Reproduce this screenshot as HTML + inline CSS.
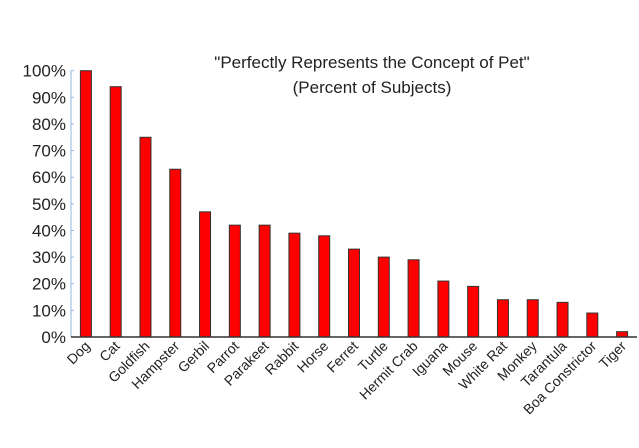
<!DOCTYPE html>
<html><head><meta charset="utf-8"><style>
body{margin:0;background:#fff}
svg text{font-family:"Liberation Sans",sans-serif;fill:#222}
</style></head><body>
<svg id="chart" width="639" height="443" xmlns="http://www.w3.org/2000/svg">
<text x="372" y="68" text-anchor="middle" font-size="17">"Perfectly Represents the Concept of Pet"</text>
<text x="372" y="93" text-anchor="middle" font-size="17">(Percent of Subjects)</text>
<g id="g"></g>
</svg>
<script>
const categories=["Dog","Cat","Goldfish","Hampster","Gerbil","Parrot","Parakeet","Rabbit","Horse","Ferret","Turtle","Hermit Crab","Iguana","Mouse","White Rat","Monkey","Tarantula","Boa Constrictor","Tiger"];
const values=[100,94,75,63,47,42,42,39,38,33,30,29,21,19,14,14,13,9,2];
const ticks=[0,10,20,30,40,50,60,70,80,90,100];
const NS="http://www.w3.org/2000/svg";
const g=document.getElementById('g');
const x0=71,x1=637,y0=337,y100=70.7;
const step=(x1-x0)/categories.length;
const y=v=>y0-(y0-y100)*v/100;
const xc=i=>x0+step*(i+0.5);
function mk(t,a){const e=document.createElementNS(NS,t);for(const k in a)e.setAttribute(k,a[k]);g.appendChild(e);return e;}
const ax=mk('line',{x1:x0,y1:y100,x2:x0,y2:y0,stroke:'#8fb8e0','stroke-width':1});


ticks.forEach(t=>{
 const l=mk('line',{x1:x0,x2:x0+3,y1:y(t),y2:y(t),stroke:'#8fb8e0'});
 
 
 const tx=mk('text',{x:66,y:y(t)+6,'text-anchor':'end','font-size':17});
 tx.textContent=t+'%';
 
 
});
values.forEach((v,i)=>{
 const r=mk('rect',{x:xc(i)-5.5,y:y(v),width:11,height:y0-y(v),fill:'#ff0000',stroke:'#333','stroke-width':1});
 
 
 const tx=mk('text',{x:0,y:0,'text-anchor':'end','font-size':14,transform:`translate(${xc(i)+5},${y0+10}) rotate(-45)`});
 tx.textContent=categories[i];
 
 
});
const bl=mk('line',{x1:x0,x2:x1,y1:y0,y2:y0,stroke:'#333','stroke-width':1.5});


</script>
</body></html>
